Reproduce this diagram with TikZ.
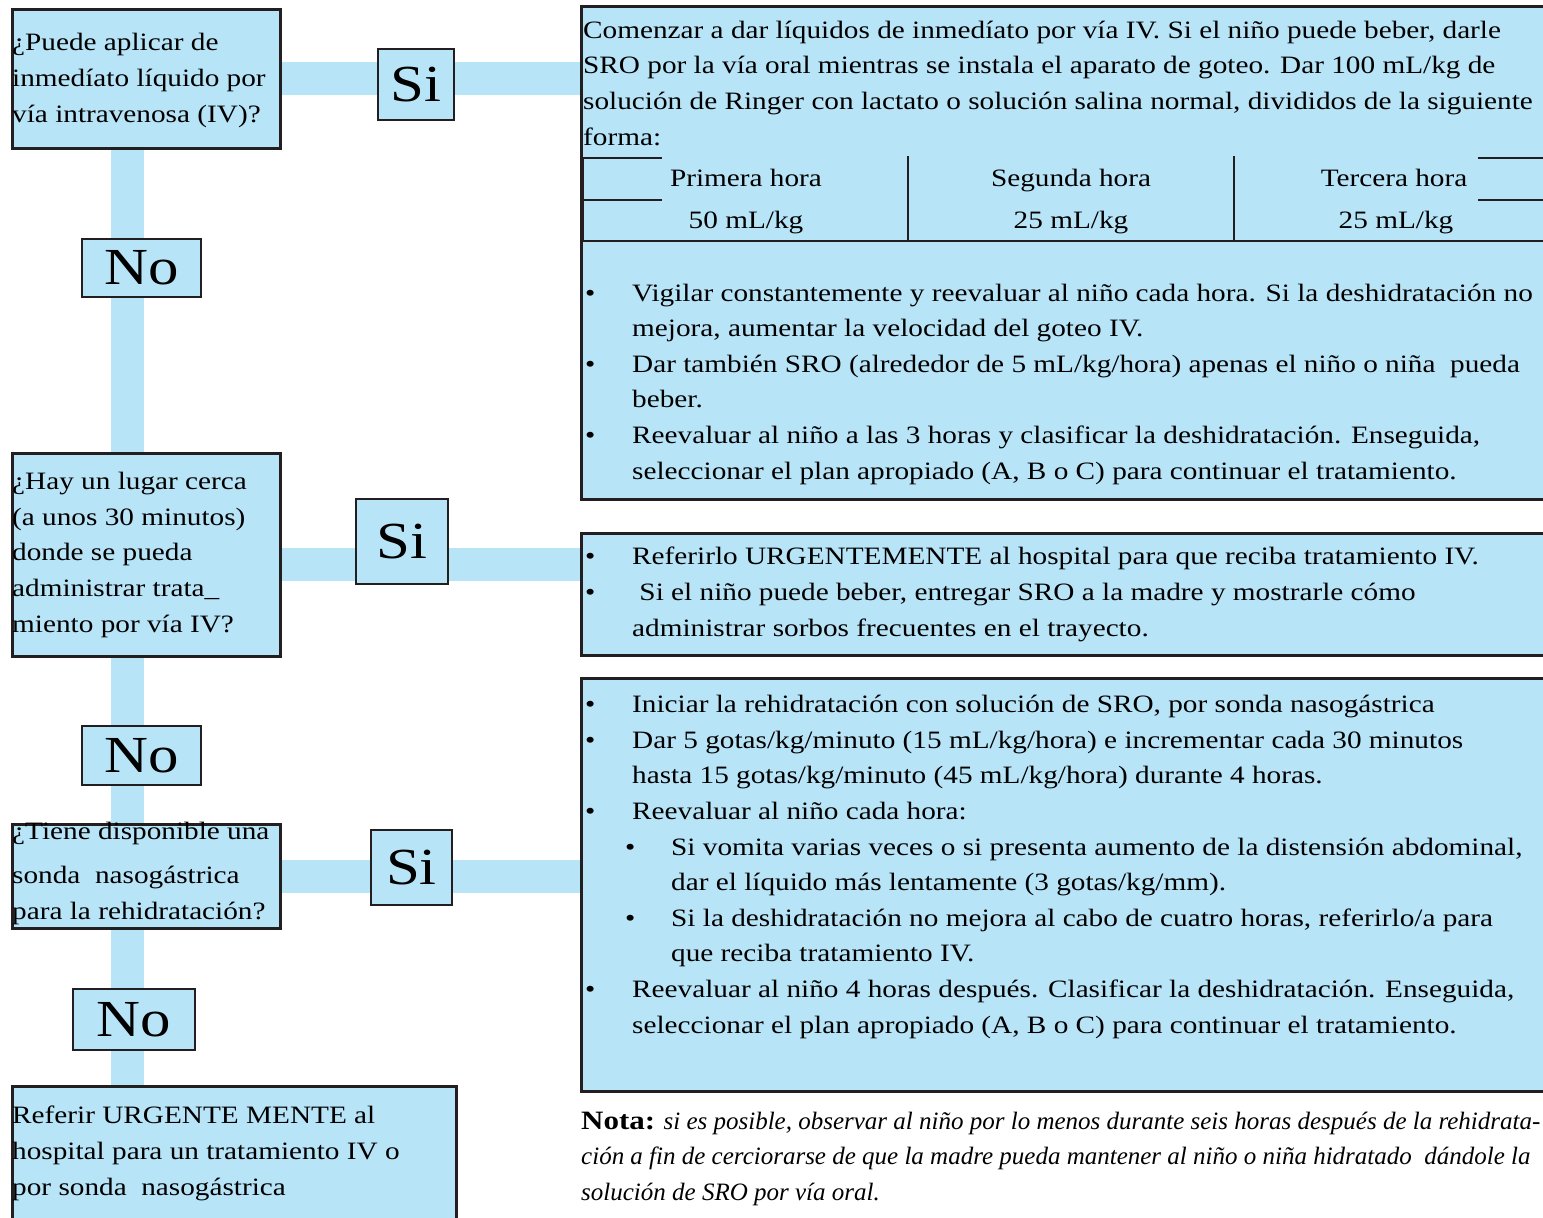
\documentclass[tikz,border=0pt]{standalone}
\usepackage{fontspec}
\setmainfont{Liberation Serif}[FakeStretch=1.17]
\newfontfamily\notafont{Liberation Serif}
\usetikzlibrary{positioning,backgrounds}

\definecolor{paleblue}{RGB}{184,228,248}
\definecolor{inkgray}{RGB}{35,31,32}

\newcommand{\bul}{\makebox[47pt][l]{\textbullet}}
\newcommand{\ind}{\hspace*{47pt}}
\newcommand{\subbul}{\hspace*{40pt}\makebox[46pt][l]{\textbullet}}
\newcommand{\subind}{\hspace*{86pt}}

\begin{document}
\begin{tikzpicture}[x=1pt, y=-1pt,
    qbox/.style={draw=inkgray, line width=2.6pt, fill=paleblue, anchor=north west, inner sep=0pt},
    tag/.style={draw=inkgray, line width=1.6pt, fill=paleblue, inner sep=0pt, font=\fontsize{52}{52}\selectfont},
    txt/.style={anchor=base west, inner sep=0pt, align=left, font=\fontsize{25}{35.6}\selectfont},
    cell/.style={anchor=base, inner sep=0pt, font=\fontsize{25}{35.6}\selectfont},
    bar/.style={paleblue, line width=33pt},
    rule/.style={inkgray, line width=2.6pt}
]
\useasboundingbox (0,0) rectangle (1543,1218);
\clip (0,0) rectangle (1543,1218);

% Questions
\node[qbox, minimum width=268, minimum height=139] (q1) at (11,8) {};
\node[qbox, minimum width=268, minimum height=203] (q2) at (11,452) {};
\node[qbox, minimum width=268, minimum height=104] (q3) at (11,823) {};
\node[qbox, minimum width=444, minimum height=150] (q4) at (11,1085) {};

% Answers
\node[qbox, minimum width=980, minimum height=493] (r1) at (580,5) {};
\node[qbox, minimum width=980, minimum height=122] (r2) at (580,532) {};
\node[qbox, minimum width=980, minimum height=413] (r3) at (580,677) {};

% Connectors
\coordinate (spine) at (127,0);
\begin{scope}[on background layer]
\draw[bar] (q1.south -| spine) -- (q4.north -| spine);
\draw[bar] (q1.east) -- (q1.east -| r1.west);
\draw[bar] ([yshift=-10pt]q2.east) -- ([yshift=-10pt]q2.east -| r2.west);
\draw[bar] (q3.east) -- (q3.east -| r3.west);
\end{scope}

% Si / No
\node[tag, minimum width=76, minimum height=71] (si1) at (416,84.5) {Si};
\node[tag, minimum width=92, minimum height=85] (si2) at (402,541.5) {Si};
\node[tag, minimum width=81, minimum height=75] (si3) at (411.5,867.5) {Si};
\node[tag, minimum width=119, minimum height=58] (no1) at (141.5,268) {No};
\node[tag, minimum width=119, minimum height=59] (no2) at (141.5,755.5) {No};
\node[tag, minimum width=122, minimum height=61] (no3) at (134,1019.5) {No};

% Question texts (anchored at the baseline of their last line)
\node[txt] (q1text) at (12,122) {¿Puede aplicar de\\inmedíato líquido por\\vía intravenosa (IV)?};
\node[txt] (q2text) at (12,632) {¿Hay un lugar cerca\\(a unos 30 minutos)\\donde se pueda\\administrar trata\_\\miento por vía IV?};
\node[txt] (q3text) at (12,919) {¿Tiene disponible una\\[8.4pt]sonda\ \ nasogástrica\\para la rehidratación?};
\node[txt] (q4text) at (12,1195) {Referir URGENTE MENTE al\\hospital para un tratamiento IV o\\por sonda\ \ nasogástrica};

% Plan text
\node[txt] (r1text) at (583,145) {Comenzar a dar líquidos de inmedíato por vía IV. Si el niño puede beber, darle\\SRO por la vía oral mientras se instala el aparato de goteo. Dar 100 mL/kg de\\solución de Ringer con lactato o solución salina normal, divididos de la siguiente\\forma:};

% Table
\draw[rule] (583,157) -- (583,241);
\draw[rule] (583,158) -- (662,158) (1478,158) -- (1543,158);
\draw[rule] (583,200) -- (662,200) (1478,200) -- (1543,200);
\draw[rule] (908,156) -- (908,241) (1234,156) -- (1234,241);
\draw[rule] (r1.west |- 0,241) -- (1543,241);
\node[cell] (h1) at (746,186) {Primera hora};
\node[cell] (h2) at (1071,186) {Segunda hora};
\node[cell] (h3) at (1394,186) {Tercera hora};
\node[cell] (d1) at (746,228) {50 mL/kg};
\node[cell] (d2) at (1071,228) {25 mL/kg};
\node[cell] (d3) at (1396,228) {25 mL/kg};

\node[txt] (r1list) at (585,479) {\bul Vigilar constantemente y reevaluar al niño cada hora. Si la deshidratación no\\
\ind mejora, aumentar la velocidad del goteo IV.\\
\bul Dar también SRO (alrededor de 5 mL/kg/hora) apenas el niño o niña\ \ pueda\\
\ind beber.\\
\bul Reevaluar al niño a las 3 horas y clasificar la deshidratación. Enseguida,\\
\ind seleccionar el plan apropiado (A, B o C) para continuar el tratamiento.};

\node[txt] (r2list) at (585,636) {\bul Referirlo URGENTEMENTE al hospital para que reciba tratamiento IV.\\
\bul\ Si el niño puede beber, entregar SRO a la madre y mostrarle cómo\\
\ind administrar sorbos frecuentes en el trayecto.};

\node[txt] (r3list) at (585,1033) {\bul Iniciar la rehidratación con solución de SRO, por sonda nasogástrica\\
\bul Dar 5 gotas/kg/minuto (15 mL/kg/hora) e incrementar cada 30 minutos\\
\ind hasta 15 gotas/kg/minuto (45 mL/kg/hora) durante 4 horas.\\
\bul Reevaluar al niño cada hora:\\
\subbul Si vomita varias veces o si presenta aumento de la distensión abdominal,\\
\subind dar el líquido más lentamente (3 gotas/kg/mm).\\
\subbul Si la deshidratación no mejora al cabo de cuatro horas, referirlo/a para\\
\subind que reciba tratamiento IV.\\
\bul Reevaluar al niño 4 horas después. Clasificar la deshidratación. Enseguida,\\
\ind seleccionar el plan apropiado (A, B o C) para continuar el tratamiento.};

% Note
\node[txt, font=\fontsize{25}{35.3}\notafont] (nota) at (581,1200) {{\rmfamily\fontsize{26.5}{35.3}\selectfont\bfseries Nota:} \textit{si es posible, observar al niño por lo menos durante seis horas después de la rehidrata-}\\
\textit{ción a fin de cerciorarse de que la madre pueda mantener al niño o niña hidratado\ \ dándole la}\\
\textit{solución de SRO por vía oral.}};

\end{tikzpicture}
\end{document}
